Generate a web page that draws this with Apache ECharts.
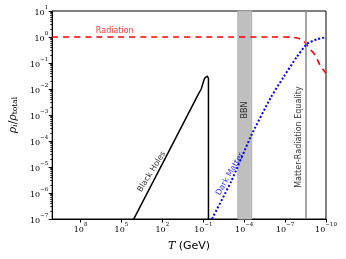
<!DOCTYPE html>
<html><head><meta charset="utf-8">
<script src="https://cdn.jsdelivr.net/npm/echarts@6/dist/echarts.min.js"></script>
<style>html,body{margin:0;padding:0;background:#fff}#c{width:346px;height:259px}</style>
</head><body><div id="c"></div>
<script>
// Axis ticks (exponents of 10)
const xTickExponents = [-10, -7, -4, -1, 2, 5, 8];
const yTickExponents = [-7, -6, -5, -4, -3, -2, -1, 0, 1];
const xRange = [1e-10, 1.2e10];   // T (GeV)
const yRange = [1e-7, 1e1];       // rho_i / rho_total

// Radiation (red dashed)
const radiationT   = [1.2e10, 1e6, 1e2, 1e-2, 1e-6, 3.16e-8, 1.29e-8, 7.8e-9, 4.5e-9, 2.8e-9, 1.45e-9, 6.3e-10, 2.75e-10, 1e-10];
const radiationRho = [1, 1, 1, 1, 1, 0.98, 0.91, 0.83, 0.71, 0.54, 0.34, 0.20, 0.083, 0.040];

// Dark matter (blue dotted)
const darkMatterT   = [3.16e-2, 9.3e-4, 3.3e-5, 1.17e-6, 1.26e-7, 1.35e-8, 2.5e-9, 4.8e-10, 1e-10];
const darkMatterRho = [7.4e-8, 2.7e-6, 1.48e-4, 4.5e-3, 0.0295, 0.174, 0.54, 0.81, 0.98];

// Black holes (black solid)
const blackHoleT   = [1.58e4, 12.3, 0.245, 0.141, 8.1e-2, 5.1e-2, 4.17e-2, 4.17e-2];
const blackHoleRho = [7.9e-8, 1.1e-4, 5.9e-3, 1.0e-2, 0.0257, 0.0316, 0.0257, 3e-8];

// Epochs
const bbnRange = [2.8e-5, 2.9e-4];
const equalityT = 2.8e-9;

const L = Math.log10;
const pairs = (ts, vs) => ts.map((t, i) => [L(t), L(vs[i])]);

const supFmt = v => '{b|10}{s|' + (v < 0 ? '\u2212' + (-v) : String(v)) + '}';
const tickRich = {
  b: {fontFamily: 'DejaVu Serif', fontSize: 8, color: '#000', verticalAlign: 'bottom', lineHeight: 12},
  s: {fontFamily: 'DejaVu Serif', fontSize: 5.5, color: '#000', verticalAlign: 'top', lineHeight: 12}
};

const yMinor = [];
for (let n = -7; n < 1; n++) for (let k = 2; k <= 9; k++) yMinor.push(n + L(k));

const chart = echarts.init(document.getElementById('c'), null, {renderer: 'canvas'});
chart.setOption({
  animation: false,
  backgroundColor: '#fff',
  grid: {left: 49, right: 20, top: 11, bottom: 40, show: true, borderColor: '#000', borderWidth: 1, backgroundColor: 'transparent'},
  xAxis: {
    type: 'value', inverse: true, min: L(xRange[0]), max: L(xRange[1]),
    axisLine: {onZero: false, lineStyle: {color: '#000', width: 1}},
    axisTick: {customValues: xTickExponents, length: 3.5, lineStyle: {color: '#000', width: 1}},
    axisLabel: {customValues: xTickExponents, formatter: supFmt, rich: tickRich, margin: 3},
    splitLine: {show: false},
    name: '{t|T} {g|(GeV)}', nameLocation: 'middle', nameGap: 21,
    nameTextStyle: {rich: {
      t: {fontFamily: 'DejaVu Serif', fontStyle: 'italic', fontSize: 11, color: '#000'},
      g: {fontFamily: 'DejaVu Sans', fontSize: 11, color: '#000'}
    }}
  },
  yAxis: [{
    type: 'value', min: L(yRange[0]), max: L(yRange[1]),
    axisLine: {show: true, onZero: false, lineStyle: {color: '#000', width: 1}},
    axisTick: {customValues: yTickExponents, length: 3.5, lineStyle: {color: '#000', width: 1}},
    axisLabel: {customValues: yTickExponents, formatter: supFmt, rich: tickRich, margin: 4},
    splitLine: {show: false},
    name: '{r|\u03c1}{i|i}{n|/}{r|\u03c1}{t|total}', nameLocation: 'middle', nameGap: 31, nameRotate: 90,
    nameTextStyle: {rich: {
      r: {fontFamily: 'DejaVu Serif', fontStyle: 'italic', fontSize: 11, color: '#000', verticalAlign: 'bottom', lineHeight: 14},
      i: {fontFamily: 'DejaVu Serif', fontStyle: 'italic', fontSize: 7.5, color: '#000', verticalAlign: 'bottom', lineHeight: 12},
      n: {fontFamily: 'DejaVu Serif', fontSize: 11, color: '#000', verticalAlign: 'bottom', lineHeight: 14},
      t: {fontFamily: 'DejaVu Serif', fontSize: 7.5, color: '#000', verticalAlign: 'bottom', lineHeight: 12}
    }}
  }, {
    type: 'value', min: L(yRange[0]), max: L(yRange[1]), position: 'left',
    axisLine: {show: false, onZero: false},
    axisTick: {show: true, customValues: yMinor, length: 2, lineStyle: {color: '#000', width: 0.8}},
    axisLabel: {show: false}, splitLine: {show: false}
  }],
  series: [
    {
      type: 'line', data: [], silent: true,
      markArea: {silent: true, itemStyle: {color: '#bfbfbf', borderColor: '#b0b0b0', borderWidth: 1},
        data: [[{xAxis: L(bbnRange[1])}, {xAxis: L(bbnRange[0])}]]},
      markLine: {silent: true, symbol: 'none', label: {show: false},
        lineStyle: {color: '#8a8a8a', width: 1.5, type: 'solid'},
        data: [{xAxis: L(equalityT)}]}
    },
    {type: 'line', name: 'Black Holes', data: pairs(blackHoleT, blackHoleRho), showSymbol: false,
      lineStyle: {color: '#000', width: 1.5}, z: 3},
    {type: 'line', name: 'Radiation', data: pairs(radiationT, radiationRho), showSymbol: false, smooth: 0.2,
      lineStyle: {color: '#ff0000', width: 1.6, type: [6, 5]}, z: 4},
    {type: 'line', name: 'Dark Matter', data: pairs(darkMatterT, darkMatterRho), showSymbol: false, smooth: 0.2,
      lineStyle: {color: '#0000ff', width: 2, type: [2, 2]}, z: 5},
    {type: 'scatter', symbolSize: 0, silent: true, z: 6,
      label: {show: true, position: 'inside', fontFamily: 'DejaVu Sans', fontSize: 8, formatter: p => p.name},
      data: [
        {name: 'Radiation', value: [5.49, 0.23], label: {color: '#ff0000'}},
        {name: 'Black Holes', value: [2.78, -5.18], label: {color: '#000', rotate: 58}},
        {name: 'Dark Matter', value: [-2.96, -5.27], label: {color: '#0000ff', rotate: 60}},
        {name: 'BBN', value: [-4.08, -2.81], label: {color: '#000', rotate: 90}},
        {name: 'Matter-Radiation Equality', value: [-8.04, -3.85], label: {color: '#000', rotate: 90}}
      ]}
  ]
});
</script></body></html>
